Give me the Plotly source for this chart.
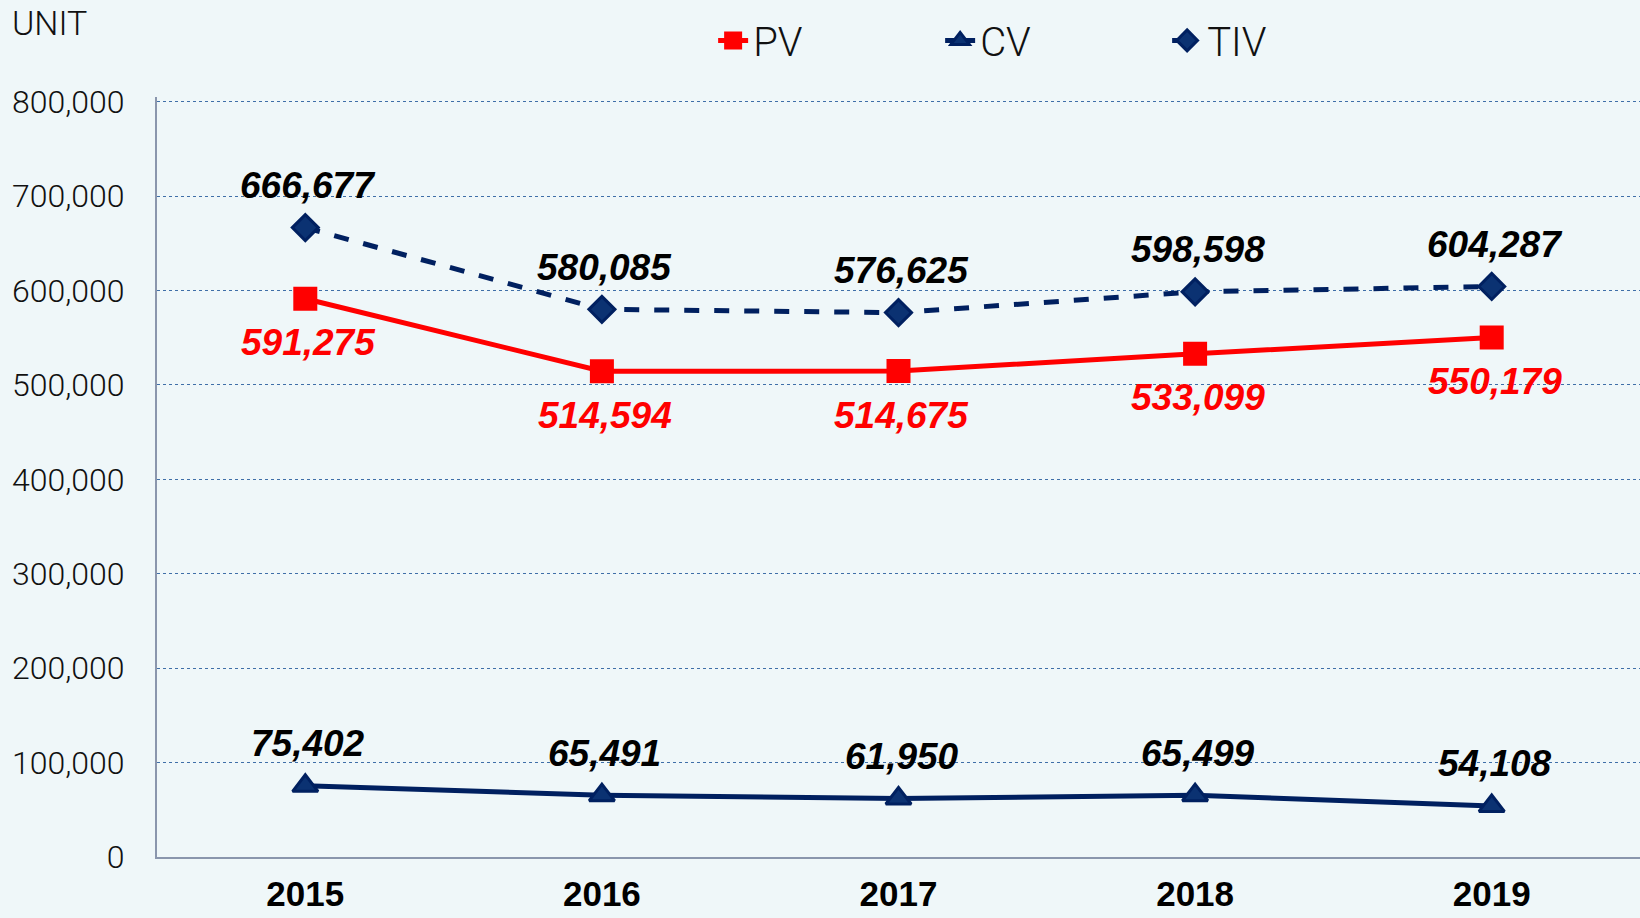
import plotly.graph_objects as go

years = ['2015', '2016', '2017', '2018', '2019']
pv = [591275, 514594, 514675, 533099, 550179]
cv = [75402, 65491, 61950, 65499, 54108]
tiv = [666677, 580085, 576625, 598598, 604287]

NAVY = '#002060'
RED = '#FF0000'
BG = '#EFF7F9'

thin_font = dict(family='Roboto', size=32, weight=300, color='#111111')

fig = go.Figure()

fig.add_trace(go.Scatter(
    x=years, y=pv, name='PV',
    mode='lines+markers',
    line=dict(color=RED, width=5),
    marker=dict(symbol='square', size=22, color=RED, line=dict(color=RED, width=2)),
))

fig.add_trace(go.Scatter(
    x=years, y=cv, name='CV',
    mode='lines+markers',
    line=dict(color=NAVY, width=5),
    marker=dict(symbol='triangle-up', size=22, color='#0B3272', line=dict(color=NAVY, width=3)),
))

fig.add_trace(go.Scatter(
    x=years, y=tiv, name='TIV',
    mode='lines+markers',
    line=dict(color=NAVY, width=5, dash='dash'),
    marker=dict(symbol='diamond', size=20, color='#0B3272', line=dict(color=NAVY, width=3)),
))

# data labels: TIV and CV above the point, PV below
# (x given as category index; a numeric-looking string would be read as an index)
for vals, shift, color in [(tiv, 42, '#000000'), (cv, 42, '#000000'), (pv, -44, RED)]:
    for i, v in enumerate(vals):
        fig.add_annotation(
            x=i, y=v, xref='x', yref='y', text=f'{v:,}',
            showarrow=False, yshift=shift, xshift=3,
            font=dict(family='Liberation Sans, Arial', size=37, color=color,
                      weight='bold', style='italic'),
        )

fig.update_layout(
    width=1640, height=918,
    paper_bgcolor=BG, plot_bgcolor=BG,
    margin=dict(l=157, r=0, t=97, b=61, autoexpand=False),
    font=thin_font,
    showlegend=True,
    legend=dict(
        orientation='h', x=0.375, xanchor='left',
        yref='container', y=0.956, yanchor='middle',
        font=dict(family='Roboto', size=40, weight=300, color='#111111'),
        entrywidth=182, entrywidthmode='pixels',
        bgcolor='rgba(0,0,0,0)',
    ),
    xaxis=dict(
        type='category', range=[-0.5, 4.5],
        showgrid=False, showline=True, linecolor='#8A96AD', linewidth=2,
        tickfont=dict(family='Liberation Sans, Arial', size=35, weight='bold', color='#000000'),
        ticks='', ticklabelstandoff=5,
    ),
    yaxis=dict(
        range=[0, 805000], tickvals=[0, 100000, 200000, 300000, 400000, 500000, 600000, 700000, 800000],
        tickformat=',d',
        showgrid=True, gridcolor='#3F6FA8', griddash='dot', gridwidth=1,
        showline=True, linecolor='#8A96AD', linewidth=2,
        zeroline=False,
        tickfont=thin_font, ticks='', ticklabelstandoff=24,
    ),
)

fig.add_annotation(
    text='UNIT', xref='paper', yref='paper', x=-157 / 1483, y=1.097,
    xanchor='left', yanchor='middle', showarrow=False,
    font=dict(family='Roboto', size=34, weight=300, color='#111111'), xshift=10,
)

fig.write_html('out.html', config={'displayModeBar': False},
               post_script="document.body.style.margin='0';")
